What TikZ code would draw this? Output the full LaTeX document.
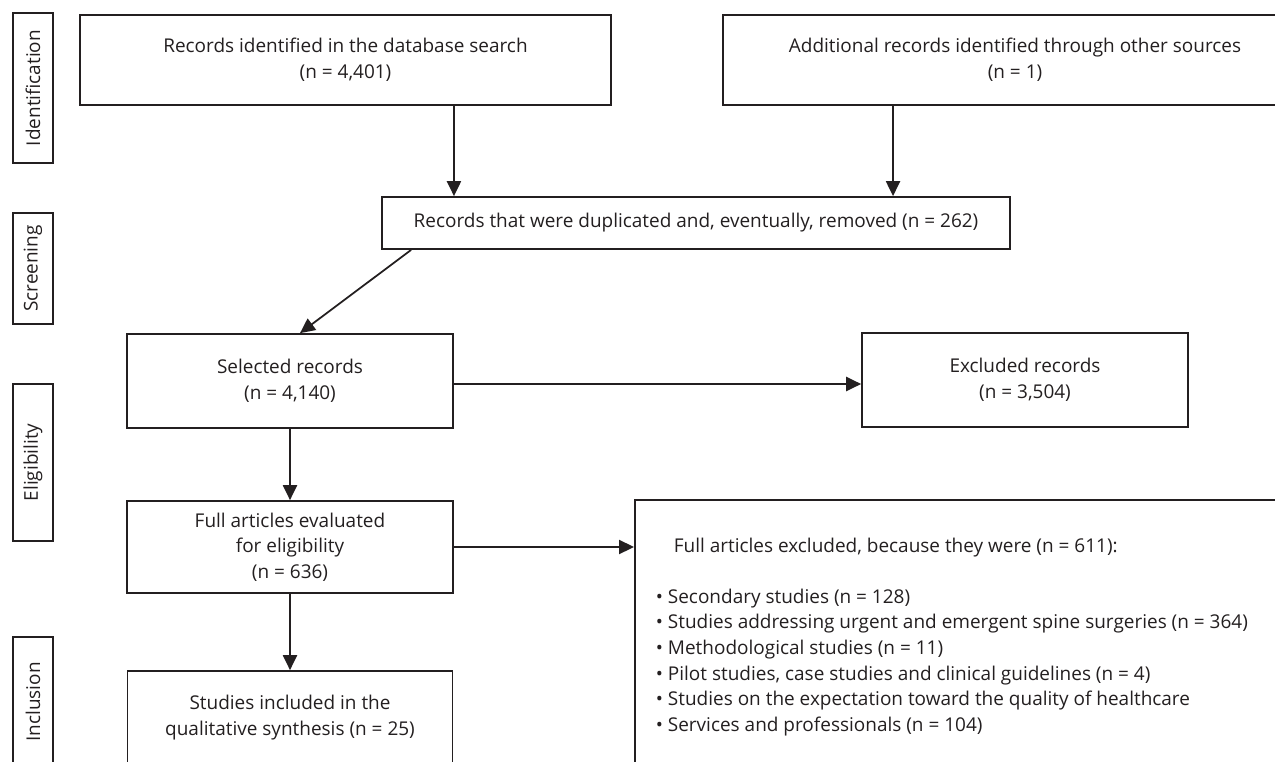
\documentclass[tikz,border=0pt]{standalone}
\usepackage{fontspec}
\setmainfont{Open Sans}
\usetikzlibrary{arrows.meta, positioning}
\definecolor{ink}{HTML}{231F20}
\newcommand{\txt}{\fontsize{10.8}{14.6}\selectfont}

\begin{document}
\begin{tikzpicture}[x=0.02cm,y=-0.02cm,line width=1pt,color=ink,
  box/.style={draw,align=center,inner sep=0pt,font=\txt},
  stage/.style={draw,rotate=90,minimum height=0.8cm,inner sep=0pt,font=\txt},
  arr/.style={-{Triangle[length=8.5pt,width=8pt]}}]
\useasboundingbox (0,0) rectangle (1275,761);
\clip (0,0) rectangle (1275,761);

\node (l1) [stage,minimum width=3cm] at (33,88) {Identification};
\node (l2) [stage,minimum width=2.22cm] at (33,268.5) {Screening};
\node (l3) [stage,minimum width=3.14cm] at (33,462.5) {Eligibility};
\node (l4) [stage,minimum width=2.6cm] at (33,702) {Inclusion};

\node (id1) [box,minimum width=10.62cm,minimum height=1.8cm] at (345.5,60) {Records identified in the database search\\(n = 4,401)};
\node (id2) [box,minimum width=11.68cm,minimum height=1.8cm] at (1015,60) {Additional records identified through other sources\\(n = 1)};
\node (dup) [box,minimum width=12.56cm,minimum height=1.04cm] at (696,223) {Records that were duplicated and, eventually, removed (n = 262)};
\node (sel) [box,minimum width=6.52cm,minimum height=1.88cm] at (290,381) {Selected records\\(n = 4,140)};
\node (exc) [box,minimum width=6.52cm,minimum height=1.88cm] at (1025,380) {Excluded records\\(n = 3,504)};
\node (full) [box,minimum width=6.52cm,minimum height=1.84cm] at (290,547) {Full articles evaluated\\for eligibility\\(n = 636)};
\node (inc) [box,minimum width=6.5cm,minimum height=1.86cm] at (290,717.5) {Studies included in the\\qualitative synthesis (n = 25)};
\node (exf) [draw,anchor=north west,minimum width=13.5cm,minimum height=6cm] at (634,499) {};
\node (exh) [anchor=west,inner sep=0pt,font=\txt] at (673,548) {Full articles excluded, because they were (n = 611):};
\node (exl) [anchor=north west,align=left,inner sep=0pt,font=\txt] at (655,588) {%
  \textbullet{} Secondary studies (n = 128)\\
  \textbullet{} Studies addressing urgent and emergent spine surgeries (n = 364)\\
  \textbullet{} Methodological studies (n = 11)\\
  \textbullet{} Pilot studies, case studies and clinical guidelines (n = 4)\\
  \textbullet{} Studies on the expectation toward the quality of healthcare\\
  \textbullet{} Services and professionals (n = 104)};

\draw[arr] ([xshift=2.17cm]id1.south) -- ([xshift=2.17cm]id1.south |- dup.north);
\draw[arr] ([xshift=-2.44cm]id2.south) -- ([xshift=-2.44cm]id2.south |- dup.north);
\draw[arr] ([xshift=0.6cm]dup.south west) -- ([xshift=0.2cm]sel.north);
\draw[arr] ([yshift=-0.06cm]sel.east) -- ([yshift=-0.06cm]sel.east -| exc.west);
\draw[arr] (sel.south) -- (sel.south |- full.north);
\draw[arr] (full.south) -- (full.south |- inc.north);
\draw[arr] (full.east) -- (full.east -| exf.west);
\end{tikzpicture}
\end{document}
